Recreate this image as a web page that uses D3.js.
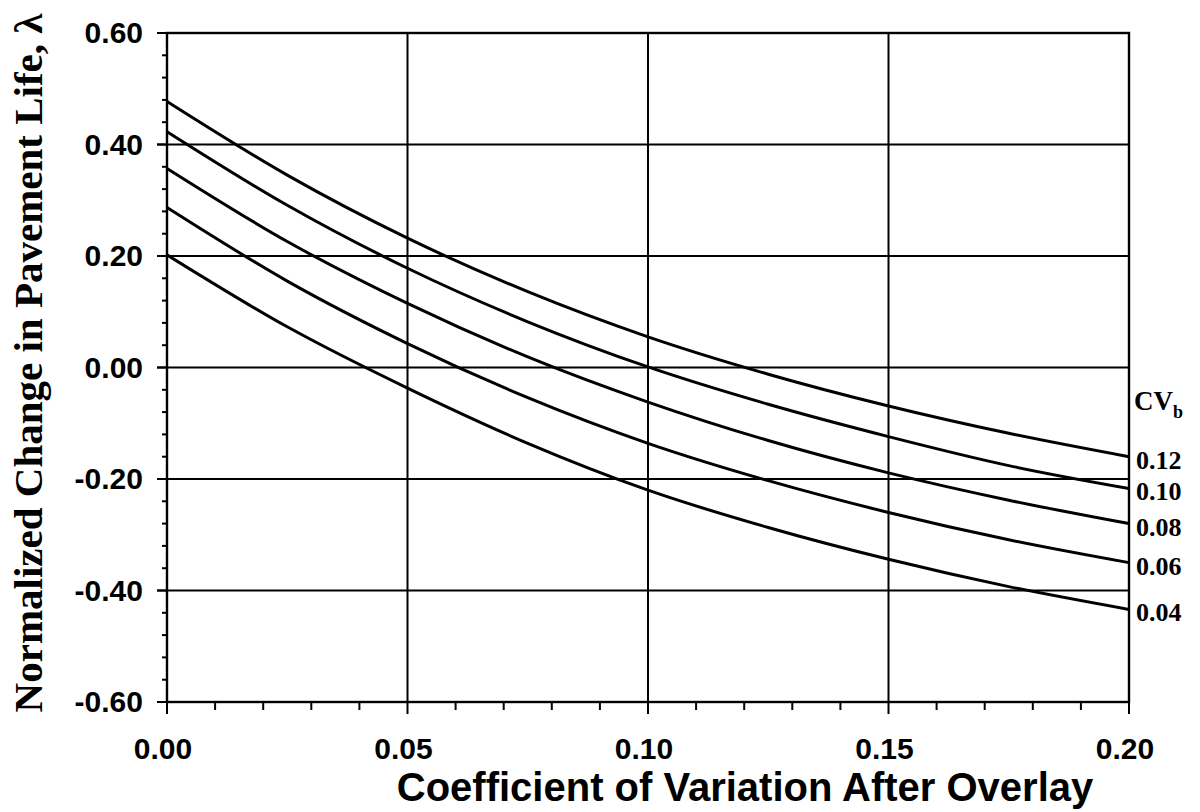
<!DOCTYPE html>
<html lang="en">
<head>
<meta charset="UTF-8">
<script src="https://d3js.org/d3.v7.min.js"></script>
<title>Normalized Change in Pavement Life</title>
<style>
    body { margin: 0; background: #fff; }
    svg { display: block; }
</style>
</head>
<body>
<div id="chart"></div>
<script>
    // x positions where the curves were read
    var cvOverlay = [0, 0.025, 0.05, 0.075, 0.10, 0.125, 0.15, 0.175, 0.20];

    // one series per CVb (before overlay)
    var cvbLabels = ["0.12", "0.10", "0.08", "0.06", "0.04"];
    var lambda012 = [0.477, 0.345, 0.232, 0.136, 0.055, -0.012, -0.069, -0.118, -0.160];
    var lambda010 = [0.423, 0.291, 0.178, 0.082, 0.001, -0.066, -0.124, -0.176, -0.217];
    var lambda008 = [0.357, 0.226, 0.115, 0.019, -0.062, -0.131, -0.189, -0.238, -0.280];
    var lambda006 = [0.287, 0.155, 0.043, -0.054, -0.136, -0.203, -0.260, -0.309, -0.350];
    var lambda004 = [0.202, 0.073, -0.037, -0.136, -0.220, -0.287, -0.344, -0.393, -0.434];
    var allSeries = [lambda012, lambda010, lambda008, lambda006, lambda004];

    var xTicks = [0, 0.05, 0.10, 0.15, 0.20];
    var yTicks = [-0.60, -0.40, -0.20, 0.00, 0.20, 0.40, 0.60];

    var width = 1200, height = 812;
    var plotLeft = 167, plotRight = 1129, plotTop = 33, plotBottom = 702;

    var svg = d3.select("#chart").append("svg")
        .attr("width", width)
        .attr("height", height);

    var x = d3.scaleLinear().domain([0, 0.20]).range([plotLeft, plotRight]);
    var y = d3.scaleLinear().domain([-0.60, 0.60]).range([plotBottom, plotTop]);

    // hyphen minus like the original print
    var fmt = d => d.toFixed(2);

    //grid lines
    svg.append("g")
        .selectAll("line")
        .data(xTicks.slice(1, -1))
        .join("line")
        .attr("x1", d => x(d)).attr("x2", d => x(d))
        .attr("y1", plotTop).attr("y2", plotBottom)
        .attr("stroke", "#000").attr("stroke-width", 2);
    svg.append("g")
        .selectAll("line")
        .data(yTicks.slice(1, -1))
        .join("line")
        .attr("x1", plotLeft - 10).attr("x2", plotRight)
        .attr("y1", d => y(d)).attr("y2", d => y(d))
        .attr("stroke", "#000").attr("stroke-width", 2);

    //minor ticks
    var xMinor = d3.range(0, 21).map(d => d / 100);
    svg.append("g")
        .selectAll("line")
        .data(xMinor)
        .join("line")
        .attr("x1", d => x(d)).attr("x2", d => x(d))
        .attr("y1", plotBottom).attr("y2", (d, i) => i % 5 == 0 ? plotBottom + 12 : plotBottom + 8)
        .attr("stroke", "#000").attr("stroke-width", 2);
    var yMinor = d3.range(-15, 16).map(d => d * 0.04);
    svg.append("g")
        .selectAll("line")
        .data(yMinor)
        .join("line")
        .attr("x1", (d, i) => i % 5 == 0 ? plotLeft - 10 : plotLeft - 5).attr("x2", plotLeft)
        .attr("y1", d => y(d)).attr("y2", d => y(d))
        .attr("stroke", "#000").attr("stroke-width", 2);

    //frame
    svg.append("rect")
        .attr("x", plotLeft).attr("y", plotTop)
        .attr("width", plotRight - plotLeft).attr("height", plotBottom - plotTop)
        .attr("fill", "none").attr("stroke", "#000").attr("stroke-width", 2.4);

    //tick labels
    svg.append("g")
        .selectAll("text")
        .data(yTicks)
        .join("text")
        .attr("x", plotLeft - 24)
        .attr("y", d => y(d) + 10)
        .attr("text-anchor", "end")
        .attr("font-family", "Liberation Sans, Arial, sans-serif")
        .attr("font-weight", "bold")
        .attr("font-size", "30px")
        .text(fmt);
    svg.append("g")
        .selectAll("text")
        .data(xTicks)
        .join("text")
        .attr("x", d => x(d) - 4)
        .attr("y", 759)
        .attr("text-anchor", "middle")
        .attr("font-family", "Liberation Sans, Arial, sans-serif")
        .attr("font-weight", "bold")
        .attr("font-size", "30px")
        .text(fmt);

    //curves
    var line = d3.line()
        .x((d, i) => x(cvOverlay[i]))
        .y(d => y(d))
        .curve(d3.curveMonotoneX);
    svg.append("g")
        .selectAll("path")
        .data(allSeries)
        .join("path")
        .attr("d", d => line(d))
        .attr("fill", "none")
        .attr("stroke", "#000")
        .attr("stroke-width", 3);

    //curve labels
    svg.append("g")
        .selectAll("text")
        .data(allSeries)
        .join("text")
        .attr("x", plotRight + 7)
        .attr("y", d => y(d[d.length - 1]) + 12)
        .attr("font-family", "Liberation Serif, Times New Roman, serif")
        .attr("font-weight", "bold")
        .attr("font-size", "26px")
        .text((d, i) => cvbLabels[i]);

    var cvb = svg.append("text")
        .attr("x", plotRight + 5)
        .attr("y", 410)
        .attr("font-family", "Liberation Serif, Times New Roman, serif")
        .attr("font-weight", "bold")
        .attr("font-size", "27px");
    cvb.append("tspan").text("CV");
    cvb.append("tspan").attr("font-size", "18px").attr("dy", 8).text("b");

    //axis titles
    svg.append("text")
        .attr("x", 745)
        .attr("y", 801)
        .attr("text-anchor", "middle")
        .attr("font-family", "Liberation Sans, Arial, sans-serif")
        .attr("font-weight", "bold")
        .attr("font-size", "40px")
        .text("Coefficient of Variation After Overlay");

    svg.append("text")
        .attr("transform", "translate(42,363) rotate(-90)")
        .attr("text-anchor", "middle")
        .attr("font-family", "Liberation Serif, Times New Roman, serif")
        .attr("font-weight", "bold")
        .attr("font-size", "41px")
        .text("Normalized Change in Pavement Life, \u03bb");
</script>
</body>
</html>
